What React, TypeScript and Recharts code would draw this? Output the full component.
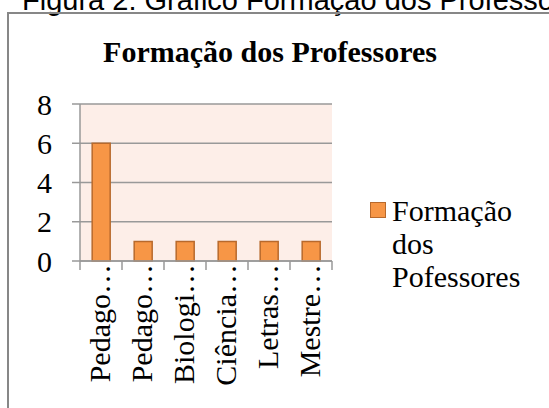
import { BarChart, Bar, XAxis, YAxis, CartesianGrid, Legend } from "recharts"

const categories = ["Pedago…", "Pedago…", "Biologi…", "Ciência…", "Letras…", "Mestre…"]
const values = [6, 1, 1, 1, 1, 1]
const yTicks = [0, 2, 4, 6, 8]
const seriesName = "Formação dos Pofessores"
const chartTitle = "Formação dos Professores"
const caption = "Figura 2: Gráfico Formação dos Professores"

const data = categories.map((c, i) => ({ name: c, value: values[i] }))

const SERIF = "'Liberation Serif', 'Times New Roman', serif"
const AXIS_GRAY = "#999999"
const ORANGE = "#f79646"
const ORANGE_EDGE = "#b8692c"

// Excel style: tick marks on category boundaries, labels turned upright
function CategoryTick(props: any) {
  const { x, y, payload, index, visibleTicksCount } = props
  const half = payload.offset || 0
  const isLast = index === (visibleTicksCount ?? categories.length) - 1
  const ty = y - 5
  return (
    <g>
      <line x1={x - half} x2={x - half} y1={y - 8} y2={y + 1} stroke={AXIS_GRAY} strokeWidth={1.5} />
      {isLast && <line x1={x + half} x2={x + half} y1={y - 8} y2={y + 1} stroke={AXIS_GRAY} strokeWidth={1.5} />}
      <text
        x={x}
        y={ty}
        dy="0.3em"
        textAnchor="end"
        transform={`rotate(-90, ${x}, ${ty})`}
        fontFamily={SERIF}
        fontSize={30}
        fill="#000"
      >
        {payload.value}
      </text>
    </g>
  )
}

function LegendBox() {
  return (
    <div style={{ display: "flex", alignItems: "flex-start", fontFamily: SERIF, fontSize: 30, lineHeight: "33px", color: "#000" }}>
      <div style={{ width: 14, height: 14, background: ORANGE, border: `1.5px solid ${ORANGE_EDGE}`, marginTop: 8, marginRight: 6, flexShrink: 0 }} />
      <div style={{ width: 150 }}>{seriesName}</div>
    </div>
  )
}

export default function App() {
  return (
    <div style={{ position: "absolute", left: 0, top: 0, width: 549, height: 408, overflow: "hidden", background: "#fff" }}>
      <div style={{ position: "absolute", left: 22, top: -14, fontFamily: "'Liberation Sans', Arial, sans-serif", fontSize: 29, lineHeight: "28px", whiteSpace: "nowrap", color: "#000" }}>
        {caption}
      </div>
      <div style={{ position: "absolute", left: 7, top: 12, width: 600, height: 450, border: "2px solid #878787" }} />
      <div style={{ position: "absolute", left: 0, top: 37, width: 540, textAlign: "center", fontFamily: SERIF, fontWeight: "bold", fontSize: 30, lineHeight: "30px", color: "#000" }}>
        {chartTitle}
      </div>
      <div style={{ position: "absolute", left: 0, top: 0 }}>
        <BarChart width={549} height={408} data={data} margin={{ top: 104, right: 217, bottom: 0, left: 0 }} barCategoryGap="29%">
          <CartesianGrid vertical={false} stroke={AXIS_GRAY} strokeWidth={1.5} fill="#fdeee8" fillOpacity={1} />
          <XAxis
            dataKey="name"
            height={147}
            interval={0}
            axisLine={{ stroke: AXIS_GRAY, strokeWidth: 1.5 }}
            tickLine={false}
            tick={<CategoryTick />}
          />
          <YAxis
            width={80}
            domain={[0, 8]}
            ticks={yTicks}
            axisLine={{ stroke: AXIS_GRAY, strokeWidth: 1.5 }}
            tickLine={{ stroke: AXIS_GRAY, strokeWidth: 1.5 }}
            tickSize={8}
            tickMargin={20}
            tick={{ fontFamily: SERIF, fontSize: 30, fill: "#000" }}
          />
          <Legend
            layout="vertical"
            align="center"
            verticalAlign="middle"
            wrapperStyle={{ left: 370, top: 194, width: 179 }}
            content={() => <LegendBox />}
          />
          <Bar dataKey="value" name={seriesName} fill={ORANGE} stroke={ORANGE_EDGE} strokeWidth={1.5} isAnimationActive={false} />
        </BarChart>
      </div>
    </div>
  )
}
